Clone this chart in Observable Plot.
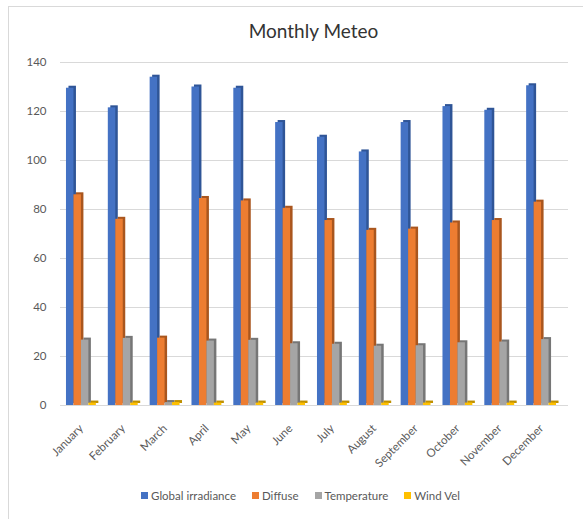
<!DOCTYPE html>
<html>
<head>
<meta charset="utf-8">
<script src="https://cdn.jsdelivr.net/npm/d3@7"></script>
<script src="https://cdn.jsdelivr.net/npm/@observablehq/plot@0.6"></script>
<style>
  html, body { margin: 0; padding: 0; background: #fff; }
  #wrap { position: relative; width: 583px; height: 519px; overflow: hidden; font-family: Lato, "Open Sans", sans-serif; }
  #frame { position: absolute; left: 8px; top: 6px; width: 600px; height: 520px; border-left: 1.5px solid #d9d9d9; border-top: 1.5px solid #d9d9d9; }
  #title { position: absolute; left: 0; width: 583px; top: 19px; text-align: center; font-size: 19px; color: #333; padding-left: 44px; box-sizing: border-box; }
  #chart { position: absolute; left: 0; top: 44px; }
  #legend { position: absolute; left: 0; width: 583px; top: 489px; display: flex; justify-content: center; padding-left: 18px; box-sizing: border-box; gap: 16px; font-size: 11.5px; color: #595959; }
  #legend span.item { display: flex; align-items: center; gap: 3px; }
  #legend span.sw { display: inline-block; width: 7px; height: 7px; }
</style>
</head>
<body>
<div id="wrap">
  <div id="frame"></div>
  <div id="title">Monthly Meteo</div>
  <div id="chart"></div>
  <div id="legend"></div>
</div>
<script>
const months = ["January","February","March","April","May","June","July","August","September","October","November","December"];
const series = ["Global irradiance","Diffuse","Temperature","Wind Vel"];
const globalIrr = [129.5, 121.5, 134, 130, 129.5, 115.5, 109.5, 103.5, 115.5, 122, 120.5, 130.5];
const diffuse   = [86, 76, 27.5, 84.5, 83.5, 80.5, 75.5, 71.5, 72, 74.5, 75.5, 83];
const temperature = [26.7, 27.4, 1.2, 26.3, 26.6, 25.2, 25.0, 24.2, 24.4, 25.6, 25.9, 26.9];
const windVel   = [1.0, 1.0, 1.2, 1.0, 1.0, 1.0, 1.0, 1.0, 1.0, 1.0, 1.0, 1.0];
const yTicks = [0, 20, 40, 60, 80, 100, 120, 140];
const colors = ["#4472C4", "#ED7D31", "#A5A5A5", "#FFC000"];
const sideColors = ["#2F5597", "#A9561E", "#767676", "#BF9000"];

const columns = [globalIrr, diffuse, temperature, windVel];
const data = [];
months.forEach((m, i) => {
  series.forEach((s, j) => data.push({month: m, series: s, value: columns[j][i]}));
});

const plot = Plot.plot({
  width: 583,
  height: 425,
  marginLeft: 60,
  marginRight: 21,
  marginTop: 18,
  marginBottom: 64,
  style: {fontFamily: "Lato, 'Open Sans', sans-serif", fontSize: "11.5px", color: "#595959", background: "transparent"},
  fx: {domain: months, padding: 0, label: null, tickRotate: -45, tickSize: 0, tickPadding: 21, round: false},
  x: {domain: series, paddingInner: 0, paddingOuter: 0.8, round: false, axis: null},
  y: {domain: [0, 140], ticks: yTicks, tickSize: 0, tickPadding: 14, label: null},
  color: {domain: series, range: colors},
  facet: {data, x: "month"},
  marks: [
    Plot.ruleY(yTicks, {stroke: "#d9d9d9", strokeWidth: 1.2, facet: false, insetRight: -6}),
    Plot.barY(data, {x: "series", y: "value", fill: d => sideColors[series.indexOf(d.series)], dx: 2.5, dy: -2}),
    Plot.barY(data, {x: "series", y: "value", fill: "series"})
  ]
});
document.getElementById("chart").appendChild(plot);

const lg = document.getElementById("legend");
series.forEach((s, j) => {
  const it = document.createElement("span");
  it.className = "item";
  const sw = document.createElement("span");
  sw.className = "sw";
  sw.style.background = colors[j];
  it.appendChild(sw);
  const t = document.createElement("span");
  t.textContent = s;
  it.appendChild(t);
  lg.appendChild(it);
});
</script>
</body>
</html>
